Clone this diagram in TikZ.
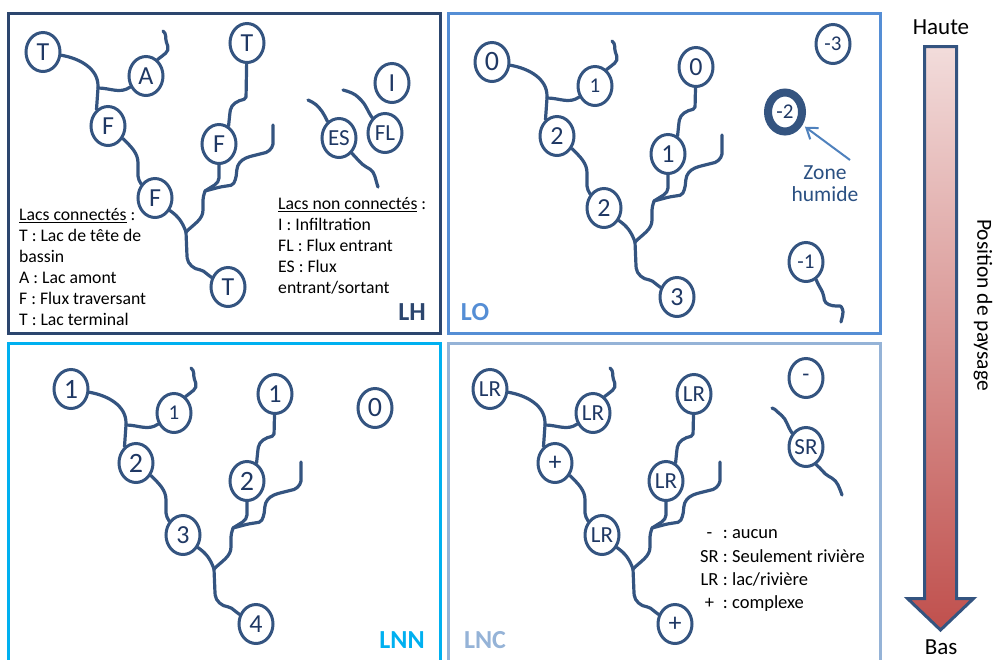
\documentclass[tikz,border=0pt]{standalone}
\usepackage{fontspec}
\setmainfont{Carlito}
\usetikzlibrary{shapes.geometric,arrows.meta}
\definecolor{bleuriv}{RGB}{52,84,128}
\definecolor{bleuLH}{RGB}{44,70,110}
\definecolor{bleuLO}{RGB}{85,142,213}
\definecolor{bleuLNN}{RGB}{0,176,240}
\definecolor{bleuLNC}{RGB}{149,179,215}
\definecolor{texte}{RGB}{31,56,100}
\definecolor{zonetxt}{RGB}{42,80,130}
\definecolor{rosehaut}{RGB}{242,220,219}
\definecolor{rougebas}{RGB}{192,80,77}
\definecolor{bleufl}{RGB}{79,129,189}

\newcommand{\petit}{\fontsize{21}{21}\selectfont}
\newcommand{\moyen}{\fontsize{23}{23}\selectfont}
\newcommand{\grand}{\fontsize{28}{28}\selectfont}

\newcommand{\reseau}[8]{
	\node[lac] (t1) at (43,52) {#1};
	\node[lac] (a) at (146,76) {#2};
	\node[lac] (t2) at (247,#8) {#3};
	\node[lac] (f1) at (108,126) {#4};
	\node[lac] (f2) at (219,144) {#5};
	\node[lac] (f3) at (155,198) {#6};
	\node[lac] (t3) at (228,287) {#7};
	\coordinate (j1) at (98,88);
	\coordinate (j2) at (186,232);
	\coordinate (j3) at (205,191);
	\draw[riv] (t1) to[out=-10,in=90] (j1) -- (f1.125);
	\draw[riv] (j1) to[out=0,in=215] (a);
	\draw[riv] (a.55) .. controls (163,55) and (170,52) .. (167,44) .. controls (165,38) and (167,34) .. (163,31);
	\draw[riv] (f1.-40) to[out=-45,in=90] (138,165) -- (138,178) -- (f3.135);
	\draw[riv] (f3.-40) to[out=-35,in=110] (j2);
	\draw[riv] (j2) -- (187,256) to[out=-85,in=175] (202,270) -- (t3.150);
	\draw[riv] (j2) to[out=45,in=-90] (203,208) -- (203,198) -- (j3);
	\draw[riv] (j3) -- (213,186) to[out=30,in=-90] (219,176) -- (f2);
	\draw[riv] (j3) -- (220,187) -- (233,185) -- (236,178) -- (237,168) to[out=70,in=195] (252,156) -- (268,152) -- (273,146) -- (273,125);
	\draw[riv] (f2.62) -- (230,112) to[out=80,in=190] (246,99) -- (t2);
}

\begin{document}
\begin{tikzpicture}[x=1pt,y=-1pt,
		lac/.style={ellipse, draw=bleuriv, line width=3pt, fill=white, minimum width=34pt, minimum height=39pt, inner sep=0pt, text=texte, font=\fontsize{26}{26}\selectfont},
		riv/.style={draw=bleuriv, line width=3.2pt, line cap=round, line join=round, rounded corners=2pt},
		cadre/.style={line width=3pt},
		legende/.style={inner sep=0pt, text=black, font=\fontsize{17.7}{21}\selectfont},
		etiq/.style={inner sep=0pt, font=\bfseries\fontsize{26}{26}\selectfont}
	]
	\useasboundingbox (0,0) rectangle (993,659);

	\draw[cadre, draw=bleuLH] (8,13) rectangle (440,333);
	\draw[cadre, draw=bleuLO] (448,13) rectangle (880,333);
	\draw[cadre, draw=bleuLNN] (8,343) rectangle (440,665);
	\draw[cadre, draw=bleuLNC] (448,343) rectangle (880,665);

	% LH
	\reseau{T}{A}{T}{F}{F}{F}{T}{43}
	\node[lac] (i) at (392,83) {I};
	\node[lac, font=\moyen] (es) at (339,138) {ES};
	\node[lac, font=\moyen] (fl) at (385,133) {FL};
	\draw[riv] (es.125) to[out=115,in=-40] (314,103) -- (308,100);
	\draw[riv] (es.-50) to[out=-45,in=150] (368,168) to[out=-30,in=110] (378,187);
	\draw[riv] (fl.130) to[out=125,in=-45] (360,99) to[out=135,in=-15] (343,90);
	\node[legende, anchor=west] (legLH) at (19,268.5) {\begin{tabular}{@{}l@{}}
			\underline{Lacs connectés} :\\
			T : Lac de tête de\\
			bassin\\
			A : Lac amont\\
			F : Flux traversant\\
			T : Lac terminal
		\end{tabular}};
	\node[legende, anchor=west] (legNC) at (278,247) {\begin{tabular}{@{}l@{}}
			\underline{Lacs non connectés} :\\
			I : Infiltration\\
			FL : Flux entrant\\
			ES : Flux\\
			entrant/sortant
		\end{tabular}};
	\node[etiq, text=bleuLH] (nLH) at (412,312) {LH};

	% LO
	\begin{scope}[shift={(449,10)}]
		\reseau{\grand 0}{\petit 1}{0}{2}{1}{2}{3}{57}
	\end{scope}
	\node[lac, font=\petit] (m3) at (833,44) {-3};
	\node[lac, line width=8pt, font=\petit] (m2) at (785,112) {-2};
	\node[lac, font=\petit] (m1) at (806,262) {-1};
	\draw[riv] (m1.-60) to[out=-70,in=100] (824,298) to[out=-80,in=180] (838,306) to[out=0,in=90] (843,314) -- (841,322);
	\node[inner sep=0pt, text=zonetxt, align=center, font=\fontsize{21.5}{22}\selectfont] (zone) at (825,184) {Zone\\humide};
	\coordinate (zq) at (850,160);
	\draw[-{Straight Barb[length=10pt,width=14pt]}, line width=2pt, color=bleufl, shorten >=3pt] (zq) -- (m2);
	\node[etiq, text=bleuLO] (nLO) at (475,312) {LO};

	% LNN
	\begin{scope}[shift={(28,337)}]
		\reseau{\grand 1}{\petit 1}{1}{\grand 2}{\grand 2}{3}{4}{57}
	\end{scope}
	\node[lac, font=\grand] (z0) at (375,408) {0};
	\node[etiq, text=bleuLNN] (nLNN) at (402,640) {LNN};

	% LNC
	\begin{scope}[shift={(447,337)}]
		\reseau{\moyen LR}{\moyen LR}{\moyen LR}{+}{\moyen LR}{\moyen LR}{+}{57}
	\end{scope}
	\node[lac, font=\moyen] (aucun) at (806,378) {-};
	\node[lac, font=\moyen] (sr) at (806,447) {SR};
	\draw[riv] (sr.135) to[out=125,in=-40] (780,414) to[out=140,in=-20] (772,408);
	\draw[riv] (sr.-60) to[out=-40,in=150] (830,477) to[out=-30,in=110] (842,495);
	\node[legende, anchor=west, font=\fontsize{18.5}{23.3}\selectfont] (legLNC) at (700,569) {\begin{tabular}{@{}c@{\ :\ }l@{}}
			- & aucun\\
			SR & Seulement rivière\\
			LR & lac/rivière\\
			+ & complexe
		\end{tabular}};
	\node[etiq, text=bleuLNC] (nLNC) at (485,640) {LNC};

	% position de paysage
	\shadedraw[top color=rosehaut, bottom color=rougebas, draw=bleuriv, line width=3pt] (924.5,46.5) -- (956.5,46.5) -- (956.5,598.5) -- (973.5,598.5) -- (940.5,630) -- (907.5,598.5) -- (924.5,598.5) -- cycle;
	\node[font=\fontsize{23}{23}\selectfont] (haute) at (941,27) {Haute};
	\node[font=\fontsize{23}{23}\selectfont] (bas) at (941,647) {Bas};
	\node[rotate=-90, font=\fontsize{21.5}{21.5}\selectfont] (pos) at (983,305) {Position de paysage};

\end{tikzpicture}
\end{document}
